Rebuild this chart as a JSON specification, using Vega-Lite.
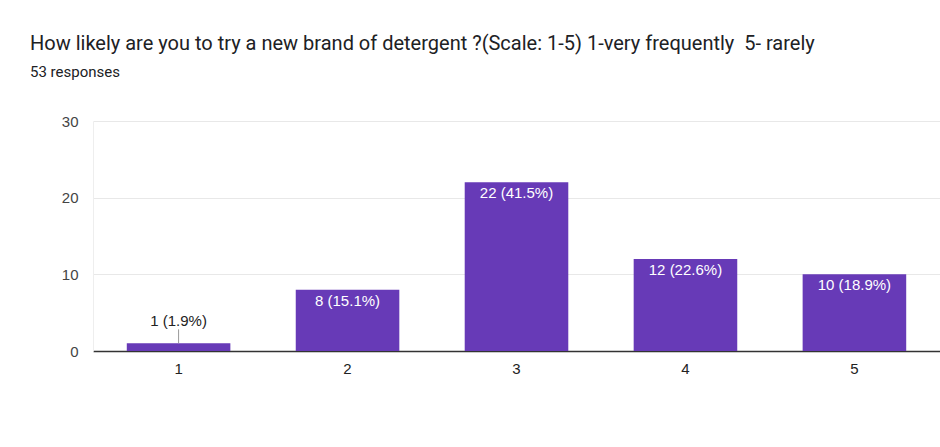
{
  "$schema": "https://vega.github.io/schema/vega-lite/v6.json",
  "width": 847,
  "height": 230,
  "autosize": "none",
  "padding": {"left": 93, "top": 121, "right": 0, "bottom": 96},
  "background": "white",
  "title": {
    "text": "How likely are you to try a new brand of detergent ?(Scale: 1-5) 1-very frequently \u00a05- rarely",
    "subtitle": "53 responses",
    "anchor": "start",
    "frame": "group",
    "dx": -63,
    "offset": 34,
    "font": "Roboto",
    "fontSize": 20,
    "fontWeight": "normal",
    "color": "#202124",
    "subtitleFont": "Roboto",
    "subtitleFontSize": 15,
    "subtitleColor": "#202124",
    "subtitlePadding": 11
  },
  "config": {"view": {"stroke": null}},
  "data": {
    "values": [
      {"scale": "1", "count": 1, "label": "1 (1.9%)", "inside": false},
      {"scale": "2", "count": 8, "label": "8 (15.1%)", "inside": true},
      {"scale": "3", "count": 22, "label": "22 (41.5%)", "inside": true},
      {"scale": "4", "count": 12, "label": "12 (22.6%)", "inside": true},
      {"scale": "5", "count": 10, "label": "10 (18.9%)", "inside": true}
    ]
  },
  "encoding": {
    "x": {
      "field": "scale",
      "type": "nominal",
      "scale": {"paddingInner": 0.387, "paddingOuter": 0.2},
      "axis": {
        "title": null,
        "labelAngle": 0,
        "labelFont": "Liberation Sans",
        "labelFontSize": 15,
        "labelColor": "#222222",
        "labelPadding": 10,
        "ticks": false,
        "domain": true,
        "domainColor": "#333333",
        "domainWidth": 1.5,
        "grid": false
      }
    }
  },
  "layer": [
    {
      "mark": {"type": "bar", "color": "#673ab7"},
      "encoding": {
        "y": {
          "field": "count",
          "type": "quantitative",
          "scale": {"domain": [0, 30]},
          "axis": {
            "title": null,
            "values": [0, 5, 10, 15, 20, 25, 30],
            "labelExpr": "datum.value % 10 === 0 ? datum.label : ''",
            "labelFont": "Liberation Sans",
            "labelFontSize": 15,
            "labelColor": "#444444",
            "labelPadding": 15,
            "ticks": false,
            "domain": true,
            "domainColor": "#eeeeee",
            "grid": true,
            "gridColor": {"condition": {"test": "datum.value % 10 === 0", "value": "#e8e8e8"}, "value": "#f4f4f4"}
          }
        }
      }
    },
    {
      "transform": [{"filter": "datum.inside"}],
      "mark": {"type": "text", "color": "white", "font": "Liberation Sans", "fontSize": 15, "baseline": "alphabetic", "dy": 16},
      "encoding": {
        "y": {"field": "count", "type": "quantitative"},
        "text": {"field": "label"}
      }
    },
    {
      "transform": [{"filter": "!datum.inside"}],
      "mark": {"type": "text", "color": "#222222", "font": "Liberation Sans", "fontSize": 15, "baseline": "alphabetic", "dy": -17},
      "encoding": {
        "y": {"field": "count", "type": "quantitative"},
        "text": {"field": "label"}
      }
    },
    {
      "transform": [{"filter": "!datum.inside"}],
      "mark": {"type": "rule", "color": "#999999", "yOffset": -14, "y2Offset": 0},
      "encoding": {
        "y": {"field": "count", "type": "quantitative"},
        "y2": {"field": "count"}
      }
    }
  ]
}
